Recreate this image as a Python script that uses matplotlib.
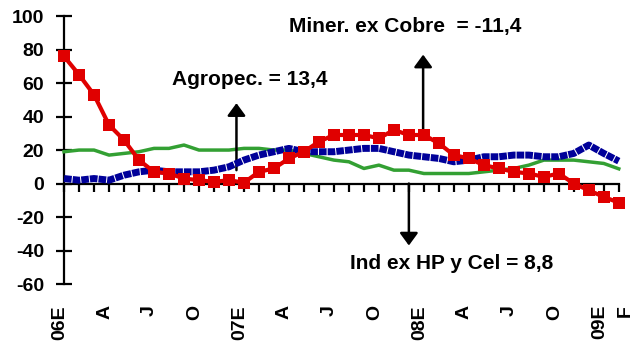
import matplotlib
matplotlib.use("Agg")
import matplotlib.pyplot as plt
import numpy as np

plt.rcParams['font.family'] = ['Liberation Sans', 'DejaVu Sans']
plt.rcParams['font.weight'] = 'bold'
plt.rcParams['axes.unicode_minus'] = False

# Monthly series, January 2006 to February 2009 (12-month % change)
months = 38
mineria = [76, 65, 53, 35, 26, 14, 7, 6, 3, 2, 1, 2, 0.5, 7, 9, 15, 19, 25, 29, 29,
           29, 27, 32, 29, 29, 24, 17, 15, 11, 9, 7, 6, 4, 6, 0, -4, -8, -11.4]
agropec = [3, 2, 3, 2, 5, 7, 8, 7, 7, 7, 8, 10, 14, 17, 19, 21, 19, 19, 19, 20,
           21, 21, 19, 17, 16, 15, 13, 14, 16, 16, 17, 17, 16, 16, 18, 23, 18, 13.4]
industria = [19, 20, 20, 17, 18, 19, 21, 21, 23, 20, 20, 20, 21, 21, 20, 20, 18, 16, 14, 13,
             9, 11, 8, 8, 6, 6, 6, 6, 7, 8, 9, 11, 14, 14, 14, 13, 12, 8.8]

tick_pos = [0, 3, 6, 9, 12, 15, 18, 21, 24, 27, 30, 33, 36, 37]
tick_lab = ['06E', 'A', 'J', 'O', '07E', 'A', 'J', 'O', '08E', 'A', 'J', 'O', '09E', 'F']

x = np.arange(months)

fig = plt.figure(figsize=(6.34, 3.43), dpi=100)
ax = fig.add_axes([0.101, 0.172, 0.875, 0.781])

ax.plot(x, industria, color='#33A033', lw=2.5, zorder=3, clip_on=False)
ax.plot(x, agropec, color='#000099', lw=5, linestyle=(0, (1.1, 0.15)),
        solid_capstyle='butt', zorder=4, clip_on=False)
ax.plot(x, mineria, color='#E00000', lw=3, marker='s', markersize=8,
        markeredgewidth=0, zorder=5, clip_on=False)

ax.set_xlim(0, months - 1)
ax.set_ylim(-60, 100)

for s in ('top', 'right'):
    ax.spines[s].set_visible(False)
ax.spines['bottom'].set_position(('data', 0))
ax.spines['left'].set_linewidth(1.6)
ax.spines['bottom'].set_linewidth(1.6)
ax.spines['left'].set_zorder(2)
ax.spines['bottom'].set_zorder(2)

ax.set_yticks(np.arange(-60, 101, 20))
ax.tick_params(axis='y', direction='inout', length=11, width=1.6, labelsize=14, pad=9)
ax.set_xticks(x)
ax.set_xticklabels([])
ax.tick_params(axis='x', direction='out', length=6, width=1.6)

for p, lab in zip(tick_pos, tick_lab):
    xp = p + 0.4 if lab == 'F' else p - 0.3
    ax.text(xp, -72.5, lab, rotation=90, ha='center', va='top',
            fontsize=14, fontweight='bold', clip_on=False)

arrow = dict(arrowstyle='-|>,head_width=0.55,head_length=0.75', color='black', lw=1.8,
             shrinkA=0, shrinkB=0)
ax.annotate('', xy=(11.5, 48), xytext=(11.5, 8), arrowprops=arrow)
ax.text(7.2, 62, 'Agropec. = 13,4', fontsize=15, fontweight='bold', va='center', ha='left')

ax.annotate('', xy=(23.95, 77), xytext=(23.95, 30), arrowprops=arrow)
ax.text(15, 94, 'Miner. ex Cobre  = -11,4', fontsize=15, fontweight='bold', va='center', ha='left')

ax.annotate('', xy=(23, -37), xytext=(23, 0), arrowprops=arrow)
ax.text(19.1, -48, 'Ind ex HP y Cel = 8,8', fontsize=15, fontweight='bold', va='center', ha='left')

fig.savefig('out.png', dpi=100)
